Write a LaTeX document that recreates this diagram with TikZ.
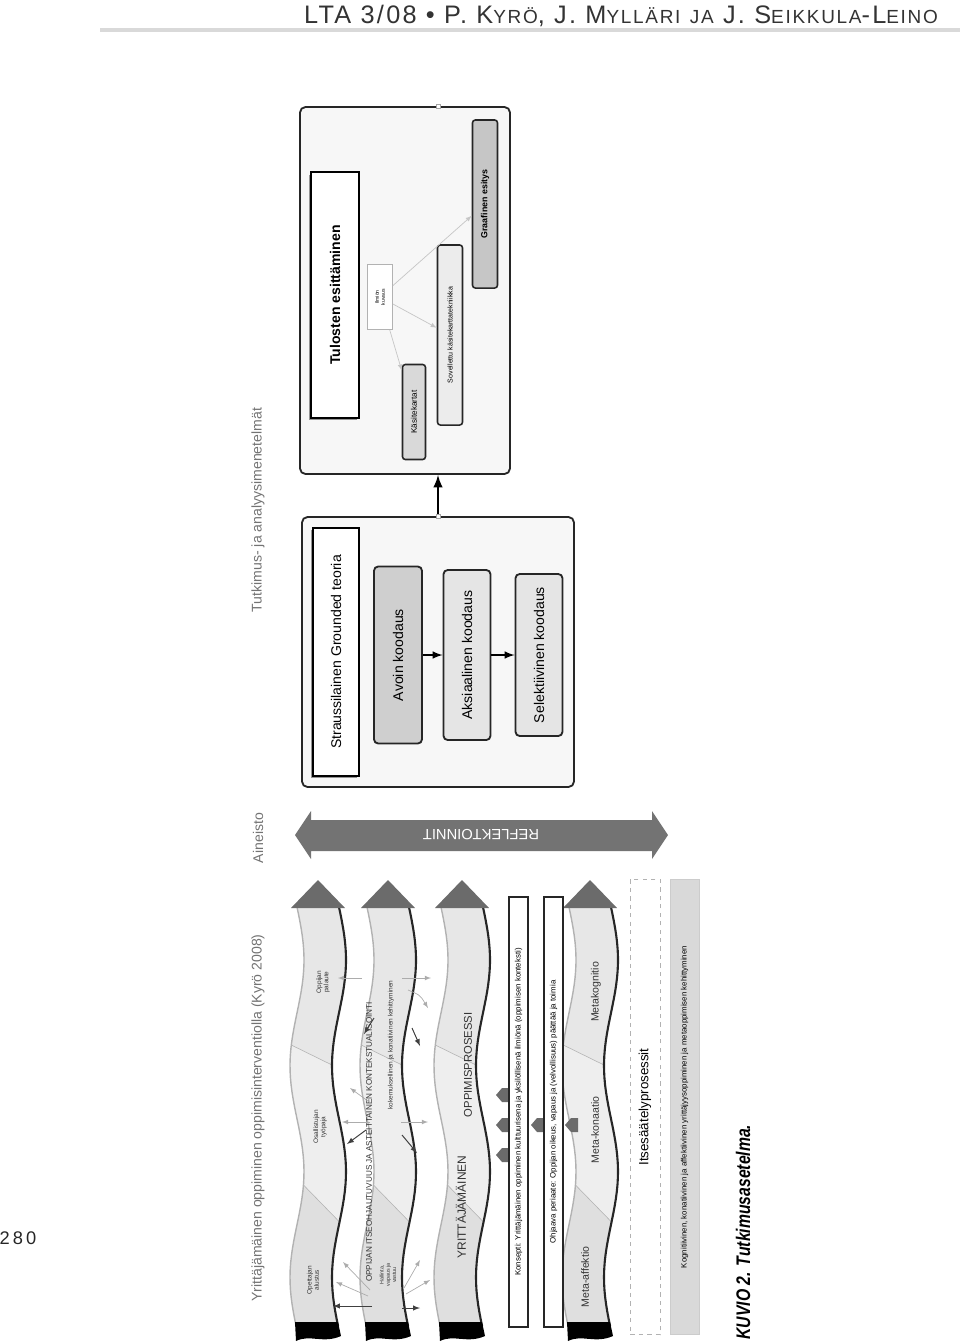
\documentclass[tikz,border=0pt]{standalone}
\usepackage{fontspec}
\setmainfont{Liberation Sans}
\newfontfamily\headfont[LetterSpace=9]{Liberation Sans}
\newfontfamily\capfont[FakeStretch=0.8]{Liberation Sans}
\newcommand\smcap[1]{{\fontsize{13.5}{13.5}\selectfont #1}}
\usetikzlibrary{arrows, shadows, positioning}

\begin{document}
\begin{tikzpicture}[
    x=0.025cm, y=-0.025cm,
    group/.style={rectangle, rounded corners=4pt, draw=black!85, line width=1.3pt, fill=gray!6, inner sep=0pt},
    heading/.style={rectangle, rotate=90, draw=black, line width=1.4pt, fill=white, align=center, inner sep=0pt, font=\fontsize{10}{12}\selectfont, drop shadow={shadow xshift=-1.5pt, shadow yshift=-1.5pt, fill=black!80}},
    coding/.style={rectangle, rotate=90, rounded corners=3pt, draw=black!85, line width=1.3pt, inner sep=0pt, align=center, font=\fontsize{10}{12}\selectfont},
    tool/.style={rectangle, rotate=90, rounded corners=2pt, draw=black!85, line width=1.1pt, inner sep=0pt, align=center},
    label/.style={rotate=90, text=black!55, font=\fontsize{10}{12}\selectfont},
    bandtext/.style={rotate=90, align=center, inner sep=0pt, text=black!80},
    strip/.style={rectangle, rotate=90, inner sep=0pt, align=center, font=\fontsize{5.6}{6}\selectfont},
    bandfill/.style={fill=gray!13},
    bandlow/.style={fill=gray!25},
    bandtop/.style={fill=gray!19},
    headfill/.style={fill=black!58},
    marker/.style={rectangle, draw=gray!70, fill=white, minimum size=3pt, inner sep=0pt},
    arrow/.style={-latex, line width=1.4pt},
    thin/.style={-latex, gray!65, line width=0.5pt},
    dark/.style={-latex, black!75, line width=0.7pt}
]
    \useasboundingbox (0,0) rectangle (960,1344);

    % Page header
    \node[font=\headfont\fontsize{18}{20}\selectfont, text=black!80] (header) at (621,16)
        {LTA 3/08 \textbullet\ P.~K\smcap{YRÖ}, J.~M\smcap{YLLÄRI} \smcap{JA} J.~S\smcap{EIKKULA}-L\smcap{EINO}};
    \fill[gray!30] (100,28) rectangle (960,32);
    \node[font=\headfont\fontsize{13}{14}\selectfont, text=black!85] (pagenum) at (18,1238) {2\,8\,0};

    % Column titles
    \node[label] (kyrotitle) at (258,1118) {Yrittäjämäinen oppiminen oppimisinterventiolla (Kyrö 2008)};
    \node[label] (aineisto) at (258,838) {Aineisto};
    \node[label] (methods) at (258,510) {Tutkimus- ja analyysimenetelmät};

    % Results group
    \node[group, minimum width=5.25cm, minimum height=9.175cm] (resgroup) at (405,290.5) {};
    \node[heading, minimum width=6.125cm, minimum height=1.2cm, font=\bfseries\fontsize{10}{12}\selectfont] (tulokset) at (335,295) {Tulosten esittäminen};
    \node[tool, draw=gray!60, line width=0.5pt, rounded corners=0pt, fill=white, minimum width=1.625cm, minimum height=0.625cm, font=\fontsize{3.6}{4.2}\selectfont] (ilmio) at (380,297) {Ilmiön\\kuvaus};
    \node[tool, fill=gray!30, minimum width=2.375cm, minimum height=0.575cm, font=\fontsize{5.8}{6}\selectfont] (kasite) at (414,412) {Käsitekartat};
    \node[tool, fill=gray!15, minimum width=4.5cm, minimum height=0.625cm, font=\fontsize{5}{6}\selectfont] (sovellus) at (450,335) {Sovellettu käsitekarttatekniikka};
    \node[tool, fill=gray!45, minimum width=4.2cm, minimum height=0.625cm, font=\bfseries\fontsize{6.3}{7}\selectfont] (grafiikka) at (485,204) {Graafinen esitys};
    \draw[thin, gray!45] (ilmio) -- (kasite);
    \draw[thin, gray!45] (ilmio) -- (sovellus);
    \draw[thin, gray!45] (ilmio) -- (grafiikka);

    % Grounded theory group
    \node[group, minimum width=6.8cm, minimum height=6.75cm] (strgroup) at (438,652) {};
    \node[heading, minimum width=6.2cm, minimum height=1.15cm] (strauss) at (336,652) {Straussilainen Grounded teoria};
    \node[coding, fill=gray!38, minimum width=4.425cm, minimum height=1.2cm] (avoin) at (398,655) {Avoin koodaus};
    \node[coding, fill=gray!20, minimum width=4.25cm, minimum height=1.175cm] (aksiaali) at (467,655) {Aksiaalinen koodaus};
    \node[coding, fill=gray!20, minimum width=4.05cm, minimum height=1.175cm] (selektiivi) at (539,655) {Selektiivinen koodaus};
    \draw[arrow] (avoin) -- (aksiaali);
    \draw[arrow] (aksiaali) -- (selektiivi);

    % Link between the groups
    \node[marker] (lowmark) at (strgroup.north) {};
    \node[marker] (topmark) at (strgroup.north |- resgroup.north) {};
    \draw[arrow, line width=2pt] (lowmark) -- (strgroup.north |- resgroup.south);

    % Reflection arrow
    \fill[black!55] (295,835) -- (311,811) -- (311,820) -- (652,820) -- (652,811) -- (668,835)
        -- (652,859) -- (652,851) -- (311,851) -- (311,859) -- cycle;
    \node[rotate=180, text=white, font=\fontsize{10.5}{12}\selectfont] (reflekt) at (481,835) {REFLEKTOINNIT};

    % Wavy learning bands
    \foreach \cx in {318,388,462,590} {
        \fill[bandfill] plot[domain=907:1326, samples=60] ({\cx-21+7*sin((\x-907)*1.7)},\x)
            -- plot[domain=1326:907, samples=60] ({\cx+21+7*sin((\x-907)*1.7)},\x) -- cycle;
        \fill[bandtop] plot[domain=907:1045, samples=20] ({\cx-21+7*sin((\x-907)*1.7)},\x)
            -- plot[domain=1065:907, samples=20] ({\cx+21+7*sin((\x-907)*1.7)},\x) -- cycle;
        \fill[bandlow] plot[domain=1185:1326, samples=30] ({\cx-21+7*sin((\x-907)*1.7)},\x)
            -- plot[domain=1326:1222, samples=30] ({\cx+21+7*sin((\x-907)*1.7)},\x) -- cycle;
        \draw[gray!60, line width=0.4pt] ({\cx-21+7*sin((1045-907)*1.7)},1045) -- ({\cx+21+7*sin((1065-907)*1.7)},1065);
        \draw[gray!60, line width=0.4pt] ({\cx-21+7*sin((1185-907)*1.7)},1185) -- ({\cx+21+7*sin((1222-907)*1.7)},1222);
        \draw[gray!60, line width=1pt] plot[domain=907:1326, samples=60] ({\cx-21+7*sin((\x-907)*1.7)},\x);
        \draw[black!85, line width=1.5pt] plot[domain=907:1326, samples=60] ({\cx+21+7*sin((\x-907)*1.7)},\x);
        \fill[headfill] (\cx-27,908) -- (\cx,880) -- (\cx+27,908) -- cycle;
        \fill[black] (\cx-23,1322) -- (\cx+20,1322) -- (\cx+23,1336) .. controls (\cx+5,1344) and (\cx-8,1334) .. (\cx-22,1341) -- cycle;
    }

    % Band texts
    \node[bandtext, font=\fontsize{4.6}{5.2}\selectfont] (b1low) at (313,1280) {Opettajan\\alustus};
    \node[bandtext, font=\fontsize{4.6}{5.2}\selectfont] (b1mid) at (320,1127) {Osallistujan\\työpaja};
    \node[bandtext, font=\fontsize{4.6}{5.2}\selectfont] (b1top) at (323,982) {Oppijan\\palaute};
    \node[bandtext, font=\fontsize{5.8}{6}\selectfont] (b2caps) at (369,1142) {OPPIJAN ITSEOHJAUTUVUUS JA ASTEITTAINEN KONTEKSTUALISOINTI};
    \node[bandtext, font=\fontsize{4.6}{5}\selectfont] (b2sub) at (391,1045) {kokemuksellinen ja konatiivinen kehittyminen};
    \node[bandtext, font=\fontsize{3.8}{4.4}\selectfont] (b2low) at (388,1275) {Hallinta,\\vapaus ja\\vastuu};
    \node[bandtext, font=\fontsize{8.5}{9}\selectfont] (b3a) at (461,1207) {YRITTÄJÄMÄINEN};
    \node[bandtext, font=\fontsize{8}{9}\selectfont] (b3b) at (468,1065) {OPPIMISPROSESSI};
    \node[bandtext, font=\fontsize{7.5}{8}\selectfont] (b5low) at (585,1277) {Meta-affektio};
    \node[bandtext, font=\fontsize{7.5}{8}\selectfont] (b5mid) at (595,1130) {Meta-konaatio};
    \node[bandtext, font=\fontsize{7.5}{8}\selectfont] (b5top) at (596,992) {Metakognitio};

    % Arrows around the second band
    \draw[dark] (372,1306) -- (333,1306);
    \draw[dark] (402,1308) -- (420,1308);
    \draw[thin] (370,1290) -- (343,1262);
    \draw[thin] (368,1296) -- (336,1282);
    \draw[thin] (404,1288) -- (420,1260);
    \draw[thin] (406,1294) -- (430,1280);
    \draw[thin] (370,1122) -- (342,1122);
    \draw[thin] (401,1122) -- (428,1122);
    \draw[thin] (372,1104) -- (350,1088);
    \draw[dark] (366,1130) -- (347,1144);
    \draw[dark] (402,1135) -- (417,1153);
    \draw[thin] (362,978) -- (338,978);
    \draw[thin] (402,978) -- (431,978);
    \draw[dark] (374,1018) -- (364,1034);
    \draw[dark] (412,1028) -- (420,1046);
    \draw[thin] (408,990) .. controls (420,995) .. (428,1008);

    % Concept and principle strips
    \foreach \py in {1095,1125,1155} {
        \fill[headfill] (496,\py) -- (502,\py-7) -- (509,\py-7) -- (509,\py+7) -- (502,\py+7) -- cycle;
    }
    \fill[headfill] (531,1125) -- (537,1118) -- (544,1118) -- (544,1132) -- (537,1132) -- cycle;
    \fill[headfill] (565,1125) -- (571,1118) -- (578,1118) -- (578,1132) -- (571,1132) -- cycle;
    \node[strip, draw=black!85, line width=0.9pt, fill=white, minimum width=10.75cm, minimum height=0.475cm] (konsepti) at (518.5,1112)
        {Konsepti: Yrittäjämäinen oppiminen kulttuurisena ja yksilöllisenä ilmiönä (oppimisen konteksti)};
    \node[strip, draw=black!85, line width=0.9pt, fill=white, minimum width=10.75cm, minimum height=0.475cm] (periaate) at (553.5,1112)
        {Ohjaava periaate: Oppijan oikeus, vapaus ja (velvollisuus) päättää ja toimia};

    % Self-regulation and outcome strips
    \node[strip, draw=gray!60, dashed, line width=0.6pt, fill=white, minimum width=11.375cm, minimum height=0.75cm, font=\fontsize{9.5}{10}\selectfont] (itsesaately) at (645,1107) {Itsesäätelyprosessit};
    \node[strip, draw=gray!40, fill=gray!30, minimum width=11.375cm, minimum height=0.725cm] (kehitys) at (684.5,1107)
        {Kognitiivinen, konatiivinen ja affektiivinen yrittäjyysoppiminen ja metaoppimisen kehittyminen};

    % Caption
    \node[rotate=90, font=\capfont\bfseries\itshape\fontsize{14}{15}\selectfont] (caption) at (743,1232) {KUVIO 2. Tutkimusasetelma.};

\end{tikzpicture}
\end{document}
